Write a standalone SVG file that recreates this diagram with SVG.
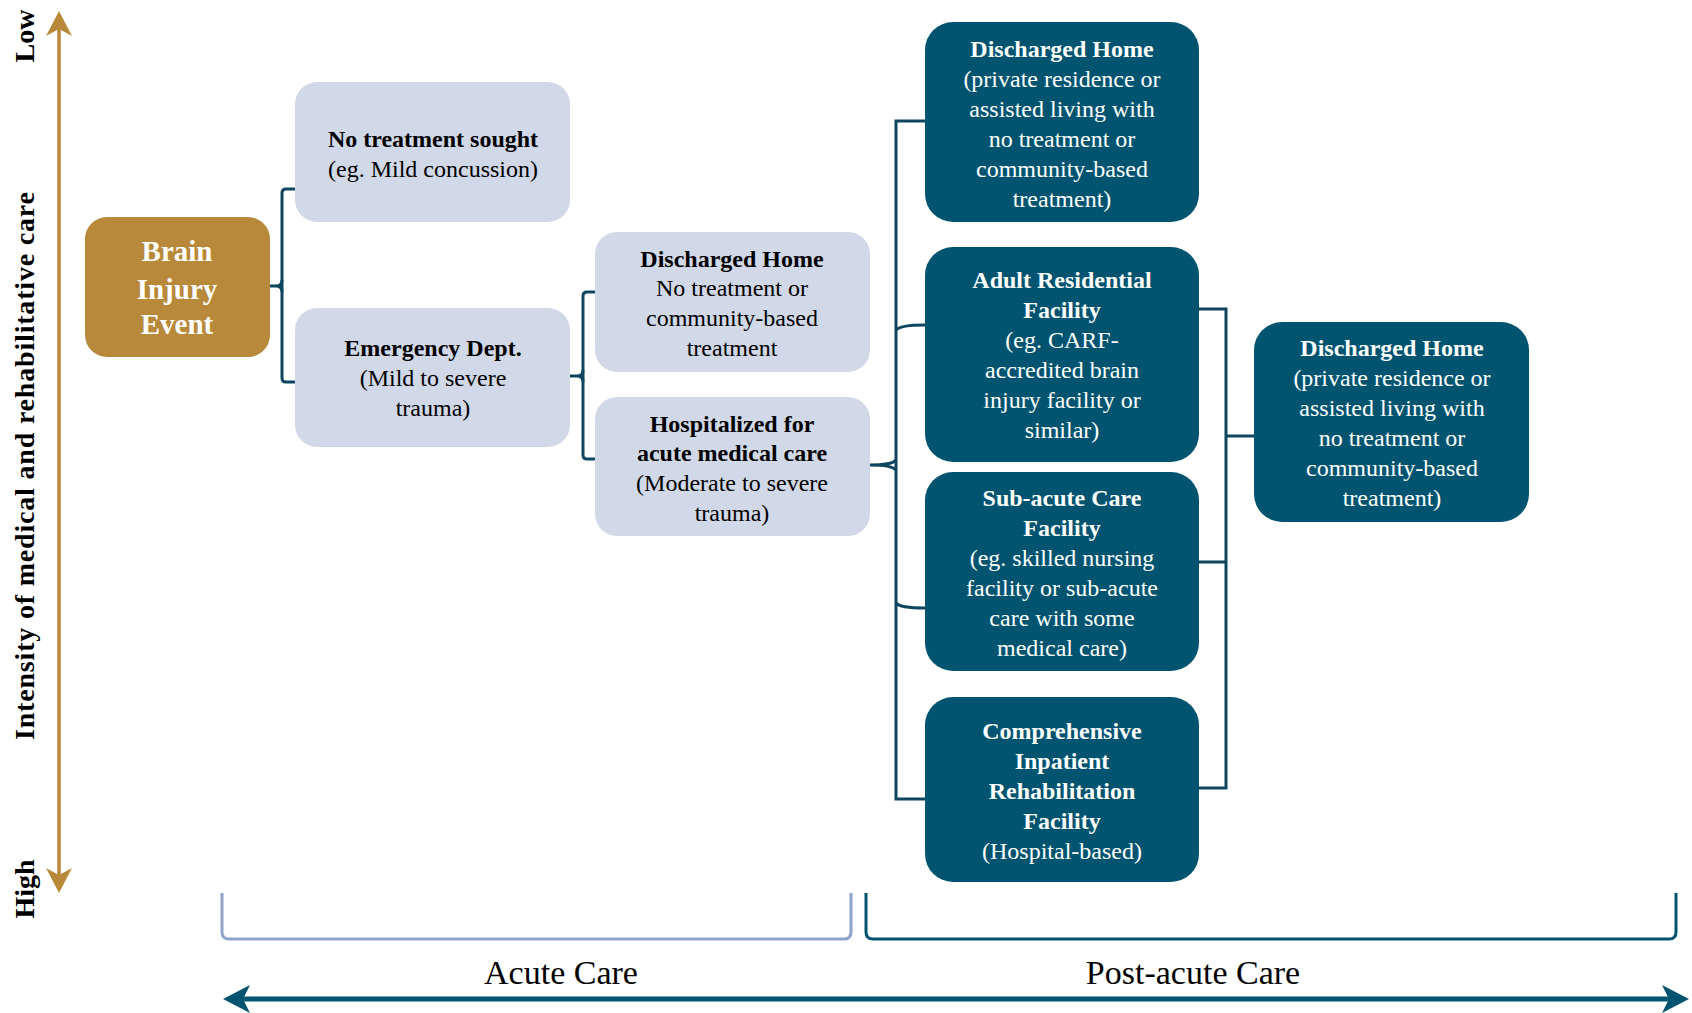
<svg xmlns="http://www.w3.org/2000/svg" width="1692" height="1013" viewBox="0 0 1692 1013">
<style>
  text { font-family: "Liberation Serif", "Times New Roman", serif; text-anchor: middle; }
  .b { font-weight: bold; }
  .lt rect { fill: #D1D8E7; }
  .lt text { fill: #000; font-size: 24px; }
  .dk rect { fill: #005470; }
  .dk text { fill: #fff; font-size: 24px; }
  .conn { fill: none; stroke: #0E4660; stroke-width: 3; }
  .ax { font-size: 28px; font-weight: bold; fill: #000; }
</style>
<rect width="1692" height="1013" fill="#fff"/>

<!-- vertical axis -->
<g id="axis-vertical">
  <line x1="59" y1="22" x2="59" y2="882" stroke="#B8893A" stroke-width="3.5"/>
  <path d="M59,11 L72,36 L59,29 L46,36 Z" fill="#B8893A"/>
  <path d="M59,893 L72,868 L59,875 L46,868 Z" fill="#B8893A"/>
  <text class="ax" transform="translate(34,36) rotate(-90)">Low</text>
  <text class="ax" transform="translate(34,889) rotate(-90)">High</text>
  <text class="ax" transform="translate(34,466) rotate(-90)" textLength="548" lengthAdjust="spacing">Intensity of medical and rehabilitative care</text>
</g>

<!-- connectors -->
<g id="connectors">
  <path class="conn" d="M295,189 H286 Q282,189 282,193 V378 Q282,382 286,382 H295"/>
  <path class="conn" d="M270,286 H276 Q282,286 282,280 M282,292 Q282,286 276,286"/>
  <path class="conn" d="M595,292 H587 Q583,292 583,296 V455 Q583,459 587,459 H595"/>
  <path class="conn" d="M570,376 H577 Q583,376 583,370 M583,382 Q583,376 577,376"/>
  <path class="conn" d="M925,121 H896 V799 H925"/>
  <path class="conn" d="M925,325 Q900,325 896,330"/>
  <path class="conn" d="M925,608 Q900,608 896,603"/>
  <path class="conn" d="M870,465 Q892,465 896,470 M870,465 Q892,465 896,460"/>
  <path class="conn" d="M1199,309 H1226 V788 H1199"/>
  <path class="conn" d="M1199,562 H1226"/>
  <path class="conn" d="M1226,436 H1254"/>
</g>

<g id="brain-injury-event">
  <rect x="85" y="217" width="185" height="140" rx="22" fill="#B8893A"/>
  <text class="b" x="177" y="261" font-size="29" fill="#fff">Brain</text>
  <text class="b" x="177" y="299" font-size="29" fill="#fff">Injury</text>
  <text class="b" x="177" y="334" font-size="29" fill="#fff">Event</text>
</g>

<g id="no-treatment" class="lt">
  <rect x="295" y="82" width="275" height="140" rx="22"/>
  <text class="b" x="433" y="147">No treatment sought</text>
  <text x="433" y="177">(eg. Mild concussion)</text>
</g>

<g id="emergency-dept" class="lt">
  <rect x="295" y="308" width="275" height="139" rx="22"/>
  <text class="b" x="433" y="356">Emergency Dept.</text>
  <text x="433" y="386">(Mild to severe</text>
  <text x="433" y="416">trauma)</text>
</g>

<g id="discharged-home-acute" class="lt">
  <rect x="595" y="232" width="275" height="140" rx="22"/>
  <text class="b" x="732" y="267">Discharged Home</text>
  <text x="732" y="296">No treatment or</text>
  <text x="732" y="326">community-based</text>
  <text x="732" y="356">treatment</text>
</g>

<g id="hospitalized" class="lt">
  <rect x="595" y="397" width="275" height="139" rx="22"/>
  <text class="b" x="732" y="432">Hospitalized for</text>
  <text class="b" x="732" y="461">acute medical care</text>
  <text x="732" y="491">(Moderate to severe</text>
  <text x="732" y="521">trauma)</text>
</g>

<g id="discharged-home-1" class="dk">
  <rect x="925" y="22" width="274" height="200" rx="28"/>
  <text class="b" x="1062" y="57">Discharged Home</text>
  <text x="1062" y="87">(private residence or</text>
  <text x="1062" y="117">assisted living with</text>
  <text x="1062" y="147">no treatment or</text>
  <text x="1062" y="177">community-based</text>
  <text x="1062" y="207">treatment)</text>
</g>

<g id="adult-residential" class="dk">
  <rect x="925" y="247" width="274" height="215" rx="28"/>
  <text class="b" x="1062" y="288">Adult Residential</text>
  <text class="b" x="1062" y="318">Facility</text>
  <text x="1062" y="348">(eg. CARF-</text>
  <text x="1062" y="378">accredited brain</text>
  <text x="1062" y="408">injury facility or</text>
  <text x="1062" y="438">similar)</text>
</g>

<g id="sub-acute" class="dk">
  <rect x="925" y="472" width="274" height="199" rx="28"/>
  <text class="b" x="1062" y="506">Sub-acute Care</text>
  <text class="b" x="1062" y="536">Facility</text>
  <text x="1062" y="566">(eg. skilled nursing</text>
  <text x="1062" y="596">facility or sub-acute</text>
  <text x="1062" y="626">care with some</text>
  <text x="1062" y="656">medical care)</text>
</g>

<g id="comprehensive" class="dk">
  <rect x="925" y="697" width="274" height="185" rx="28"/>
  <text class="b" x="1062" y="739">Comprehensive</text>
  <text class="b" x="1062" y="769">Inpatient</text>
  <text class="b" x="1062" y="799">Rehabilitation</text>
  <text class="b" x="1062" y="829">Facility</text>
  <text x="1062" y="859">(Hospital-based)</text>
</g>

<g id="discharged-home-2" class="dk">
  <rect x="1254" y="322" width="275" height="200" rx="28"/>
  <text class="b" x="1392" y="356">Discharged Home</text>
  <text x="1392" y="386">(private residence or</text>
  <text x="1392" y="416">assisted living with</text>
  <text x="1392" y="446">no treatment or</text>
  <text x="1392" y="476">community-based</text>
  <text x="1392" y="506">treatment)</text>
</g>

<g id="phase-brackets">
  <path d="M222,893 V932 Q222,939 229,939 H844 Q851,939 851,932 V893" fill="none" stroke="#8FA3CC" stroke-width="3"/>
  <path d="M866,893 V932 Q866,939 873,939 H1669 Q1676,939 1676,932 V893" fill="none" stroke="#005470" stroke-width="3"/>
  <text x="561" y="984" font-size="34">Acute Care</text>
  <text x="1193" y="984" font-size="34">Post-acute Care</text>
</g>

<g id="axis-horizontal">
  <line x1="236" y1="999" x2="1676" y2="999" stroke="#005470" stroke-width="5"/>
  <path d="M223,999 L250,985 L243,999 L250,1013 Z" fill="#005470"/>
  <path d="M1689,999 L1662,985 L1669,999 L1662,1013 Z" fill="#005470"/>
</g>
</svg>
